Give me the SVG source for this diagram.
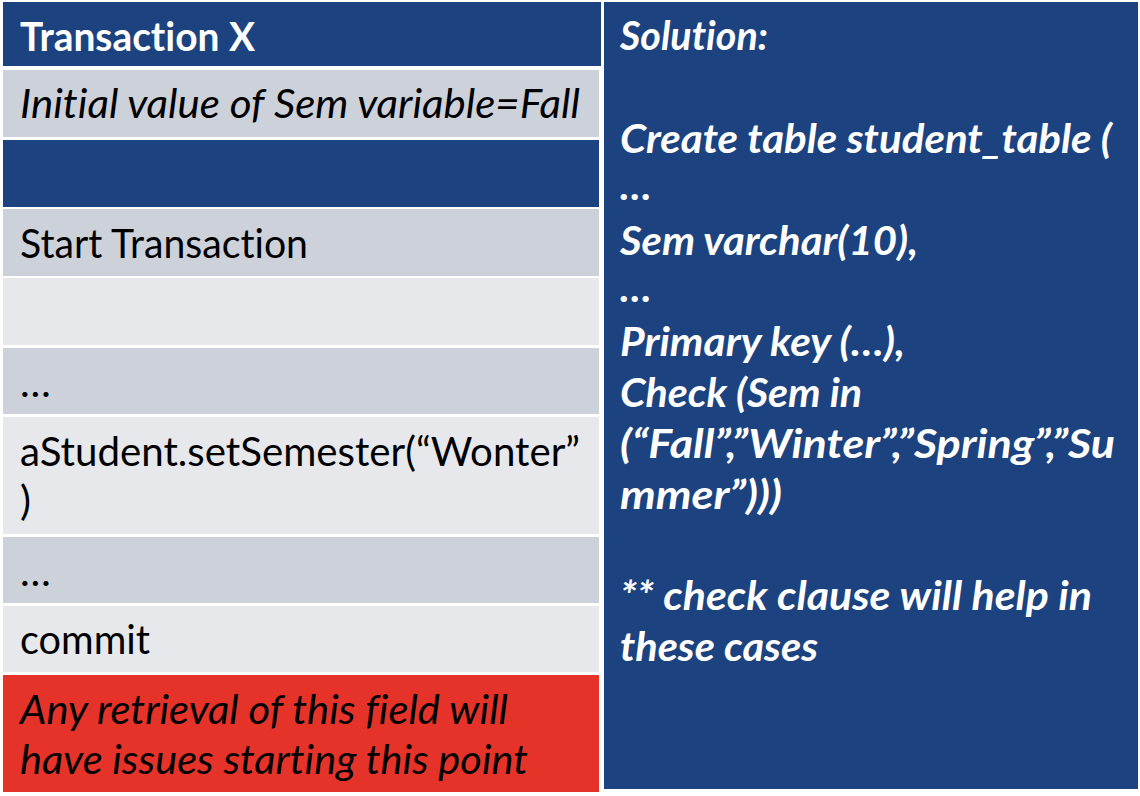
<svg xmlns="http://www.w3.org/2000/svg" width="1140" height="796" viewBox="0 0 1140 796">
  <style>
    .blue { fill: #1c4380; }
    .g1 { fill: #cdd1da; }
    .g2 { fill: #e7e8ec; }
    .red { fill: #e63329; }
    text { font-family: Lato, "Open Sans", "Liberation Sans", sans-serif; font-size: 41px; font-variant-ligatures: none; }
    .dark { fill: #000000; }
    .light { fill: #ffffff; }
    .b { font-weight: 700; }
    .i { font-style: italic; }
  </style>
  <rect x="0" y="0" width="1140" height="796" fill="#ffffff"/>

  <!-- left column: Transaction X -->
  <g id="header-transaction">
    <rect class="blue" x="3" y="2" width="598" height="64"/>
    <text class="light b" x="20" y="51" textLength="235" lengthAdjust="spacingAndGlyphs">Transaction X</text>
  </g>
  <g id="row-initial">
    <rect class="g1" x="3" y="70" width="596" height="67"/>
    <text class="dark i" x="20" y="118" textLength="560" lengthAdjust="spacingAndGlyphs">Initial value of Sem variable=Fall</text>
  </g>
  <g id="row-blank-blue">
    <rect class="blue" x="3" y="140" width="596" height="67"/>
  </g>
  <g id="row-start">
    <rect class="g1" x="3" y="209" width="596" height="67"/>
    <text class="dark" x="20" y="258" textLength="288" lengthAdjust="spacingAndGlyphs">Start Transaction</text>
  </g>
  <g id="row-empty">
    <rect class="g2" x="3" y="278" width="596" height="67"/>
  </g>
  <g id="row-ellipsis-1">
    <rect class="g1" x="3" y="348" width="596" height="66"/>
    <text class="dark" x="20" y="397">…</text>
  </g>
  <g id="row-set-semester">
    <rect class="g2" x="3" y="417" width="596" height="117"/>
    <text class="dark" x="20" y="466" textLength="560" lengthAdjust="spacingAndGlyphs">aStudent.setSemester(“Wonter”</text>
    <text class="dark" x="20" y="515">)</text>
  </g>
  <g id="row-ellipsis-2">
    <rect class="g1" x="3" y="537" width="596" height="66"/>
    <text class="dark" x="20" y="586">…</text>
  </g>
  <g id="row-commit">
    <rect class="g2" x="3" y="606" width="596" height="66"/>
    <text class="dark" x="20" y="654" textLength="130" lengthAdjust="spacingAndGlyphs">commit</text>
  </g>
  <g id="row-issue">
    <rect class="red" x="3" y="675" width="596" height="117"/>
    <text class="dark i" x="20" y="724" textLength="488" lengthAdjust="spacingAndGlyphs">Any retrieval of this field will</text>
    <text class="dark i" x="20" y="774" textLength="508" lengthAdjust="spacingAndGlyphs">have issues starting this point</text>
  </g>

  <!-- right column: Solution -->
  <g id="solution">
    <rect class="blue" x="604" y="2" width="534" height="787"/>
    <g class="light b i">
      <text x="620" y="50" textLength="148" lengthAdjust="spacingAndGlyphs">Solution:</text>
      <text x="620" y="153" textLength="492" lengthAdjust="spacingAndGlyphs">Create table student_table (</text>
      <text x="620" y="200">…</text>
      <text x="620" y="255" textLength="298" lengthAdjust="spacingAndGlyphs">Sem varchar(10),</text>
      <text x="620" y="302">…</text>
      <text x="620" y="356" textLength="285" lengthAdjust="spacingAndGlyphs">Primary key (…),</text>
      <text x="620" y="407" textLength="242" lengthAdjust="spacingAndGlyphs">Check (Sem in</text>
      <text x="620" y="458" textLength="495" lengthAdjust="spacingAndGlyphs">(“Fall”,”Winter”,”Spring”,”Su</text>
      <text x="620" y="509" textLength="162" lengthAdjust="spacingAndGlyphs">mmer”)))</text>
      <text x="620" y="610" textLength="472" lengthAdjust="spacingAndGlyphs">** check clause will help in</text>
      <text x="620" y="661" textLength="198" lengthAdjust="spacingAndGlyphs">these cases</text>
    </g>
  </g>
</svg>
